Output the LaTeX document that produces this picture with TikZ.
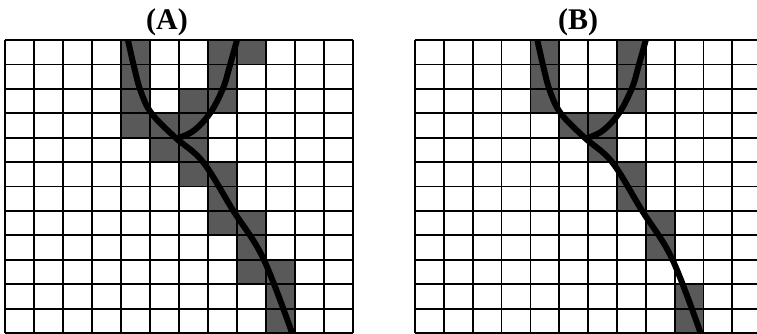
\documentclass[tikz,border=0pt]{standalone}
\usepackage{fontspec}
\setmainfont{Liberation Serif}
\begin{document}
\begin{tikzpicture}[x=1pt,y=-1pt,
  gridline/.style={line width=1.8pt, black},
  cellfill/.style={fill=black!65},
  curveline/.style={line width=6pt, black},
  panellabel/.style={font=\fontsize{30}{32}\selectfont\bfseries, inner sep=0pt}]
\useasboundingbox (0,0) rectangle (757,334);
\fill[white] (0,0) rectangle (757,334);

% ---------- Panel A ----------
\begin{scope}[shift={(5,40)}, x=29pt, y=-24.42pt]
  \foreach \r/\c in {0/4,0/7,0/8, 1/4,1/7, 2/4,2/6,2/7, 3/4,3/5,3/6, 4/5,4/6,
                     5/6,5/7, 6/7, 7/7,7/8, 8/8, 9/8,9/9, 10/9, 11/9}
    \fill[cellfill] (\c,\r) rectangle ++(1,1);
  \draw[curveline] plot[smooth, tension=0.6] coordinates {
    (4.24,0) (4.45,1.1) (4.68,2.1) (5.05,3.0) (5.86,3.98)
    (6.83,5.0) (7.86,6.97) (8.9,8.93) (9.9,12)};
  \draw[curveline] plot[smooth, tension=0.6] coordinates {
    (8.0,0) (7.76,1.02) (7.52,1.97) (7.07,3.0) (6.5,3.72) (5.95,4.02)};
  \foreach \i in {0,...,12} {
    \draw[gridline] (\i,0) -- (\i,12);
    \draw[gridline] (0,\i) -- (12,\i);
  }
\end{scope}
\node[panellabel] (labA) at (167,22) {(A)};

% ---------- Panel B ----------
\begin{scope}
\clip (400,0) rectangle (757,334);
\begin{scope}[shift={(415,40)}, x=28.85pt, y=-24.42pt]
  \foreach \r/\c in {0/4,0/7, 1/4,1/7, 2/4,2/7, 3/5,3/6, 4/6,
                     5/7, 6/7, 7/8, 8/8, 10/9, 11/9}
    \fill[cellfill] (\c,\r) rectangle ++(1,1);
  \draw[curveline] plot[smooth, tension=0.6] coordinates {
    (4.24,0) (4.45,1.1) (4.68,2.1) (5.05,3.0) (5.86,3.98)
    (6.83,5.0) (7.86,6.97) (8.9,8.93) (9.9,12)};
  \draw[curveline] plot[smooth, tension=0.6] coordinates {
    (8.0,0) (7.76,1.02) (7.52,1.97) (7.07,3.0) (6.5,3.72) (5.95,4.02)};
  \foreach \i in {0,...,12} {
    \draw[gridline] (\i,0) -- (\i,12);
    \draw[gridline] (0,\i) -- (12.5,\i);
  }
\end{scope}
\end{scope}
\node[panellabel] (labB) at (578,22) {(B)};
\end{tikzpicture}
\end{document}
